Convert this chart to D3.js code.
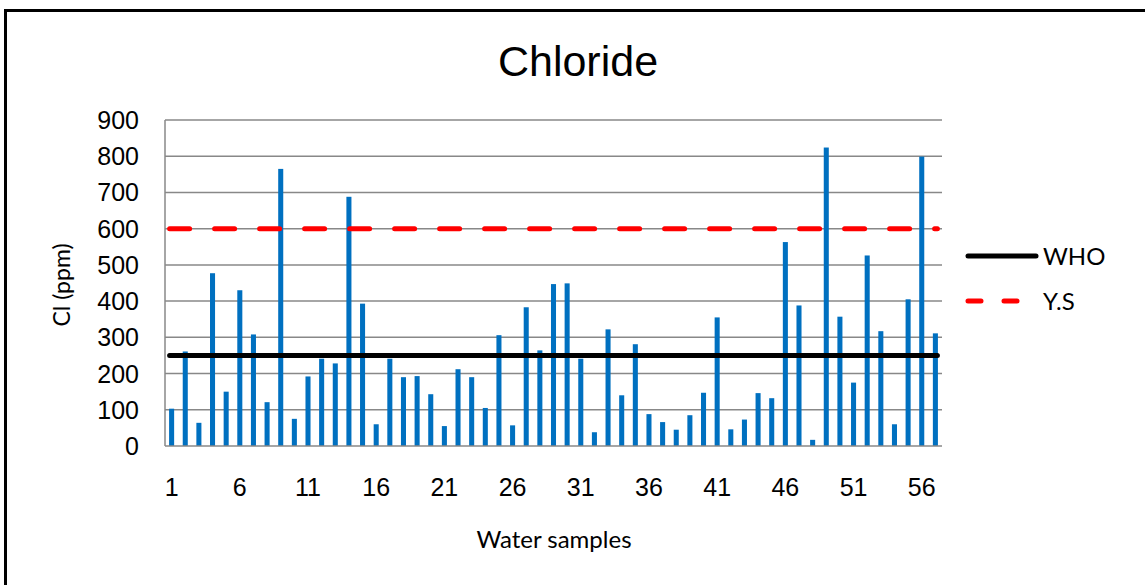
<!DOCTYPE html>
<html>
<head>
<meta charset="utf-8">
<script src="https://cdn.jsdelivr.net/npm/d3@7"></script>
<style>
  body { margin: 0; background: #fff; }
  text { font-family: "Liberation Sans", Arial, sans-serif; fill: #000; }
  text.cal { font-family: Lato, "Open Sans", sans-serif; }
</style>
</head>
<body>
<div id="container"></div>
<script>
// chloride per water sample (ppm)
var samples = d3.range(1, 58);
var chloride = [103, 261, 64, 477, 150, 430, 308, 121, 765, 75,
                192, 241, 228, 688, 393, 60, 241, 190, 193, 143,
                55, 212, 190, 105, 306, 57, 383, 264, 447, 449,
                241, 38, 322, 140, 281, 88, 66, 45, 85, 147,
                355, 46, 73, 146, 132, 563, 388, 17, 824, 357,
                175, 526, 317, 60, 405, 799, 311];
var limits = [
  {name: "WHO", value: 250},
  {name: "Y.S", value: 600}
];
var yTicks = [0, 100, 200, 300, 400, 500, 600, 700, 800, 900];
var xTickLabels = [1, 6, 11, 16, 21, 26, 31, 36, 41, 46, 51, 56];

var width = 1145, height = 585;
var plot = {left: 165, right: 942, top: 120, bottom: 446};

var svg = d3.select("#container").append("svg")
    .attr("width", width)
    .attr("height", height);

// outer frame
svg.append("rect")
    .attr("x", 5.5).attr("y", 10.5)
    .attr("width", width + 20).attr("height", height + 20)
    .attr("fill", "none").attr("stroke", "#000").attr("stroke-width", 3);

var x = d3.scaleBand()
    .domain(samples)
    .range([plot.left, plot.right])
    .paddingInner(0.63)
    .paddingOuter(0.3);

var y = d3.scaleLinear()
    .domain([0, 900])
    .range([plot.bottom, plot.top]);

// gridlines
svg.append("g").selectAll("line")
    .data(yTicks.slice(1))
    .enter().append("line")
    .attr("x1", plot.left).attr("x2", plot.right)
    .attr("y1", function(d) { return y(d) }).attr("y2", function(d) { return y(d) })
    .attr("stroke", "#888").attr("stroke-width", 1.5);

// bars
svg.append("g").selectAll("rect")
    .data(chloride)
    .enter().append("rect")
    .attr("x", function(d, i) { return x(samples[i]) })
    .attr("y", function(d) { return y(d) })
    .attr("width", x.bandwidth())
    .attr("height", function(d) { return y(0) - y(d) })
    .attr("fill", "#0070C0");

// axes lines
svg.append("line")
    .attr("x1", plot.left).attr("x2", plot.left)
    .attr("y1", plot.top).attr("y2", plot.bottom)
    .attr("stroke", "#888").attr("stroke-width", 1.5);
svg.append("line")
    .attr("x1", plot.left).attr("x2", plot.right)
    .attr("y1", y(0)).attr("y2", y(0))
    .attr("stroke", "#888").attr("stroke-width", 1.5);

// limit lines
var first = x(samples[0]) + x.bandwidth() / 2 - 2,
    last = x(samples[samples.length - 1]) + x.bandwidth() / 2 + 2;

svg.append("line")
    .attr("x1", first).attr("x2", last)
    .attr("y1", y(limits[0].value)).attr("y2", y(limits[0].value))
    .attr("stroke", "#000").attr("stroke-width", 5).attr("stroke-linecap", "round");

svg.append("line")
    .attr("x1", first).attr("x2", last)
    .attr("y1", y(limits[1].value)).attr("y2", y(limits[1].value))
    .attr("stroke", "#ff0000").attr("stroke-width", 5)
    .attr("stroke-linecap", "round").attr("stroke-dasharray", "20,25");

// y tick labels
svg.append("g").selectAll("text")
    .data(yTicks)
    .enter().append("text")
    .attr("x", 139)
    .attr("y", function(d) { return y(d) })
    .attr("dy", "0.36em")
    .attr("text-anchor", "end")
    .style("font-size", "25px")
    .text(function(d) { return d });

// x tick labels
svg.append("g").selectAll("text")
    .data(xTickLabels)
    .enter().append("text")
    .attr("x", function(d) { return x(d) + x.bandwidth() / 2 })
    .attr("y", 496)
    .attr("text-anchor", "middle")
    .style("font-size", "25px")
    .text(function(d) { return d });

// titles
svg.append("text")
    .attr("x", 578).attr("y", 76)
    .attr("text-anchor", "middle")
    .style("font-size", "43px")
    .text("Chloride");

svg.append("text")
    .attr("class", "cal")
    .attr("x", 554).attr("y", 548)
    .attr("text-anchor", "middle")
    .style("font-size", "24px")
    .text("Water samples");

svg.append("text")
    .attr("class", "cal")
    .attr("transform", "translate(70," + 285 + ") rotate(-90)")
    .attr("text-anchor", "middle")
    .style("font-size", "23px")
    .text("Cl (ppm)");

// legend
var legend = svg.append("g");
legend.append("line")
    .attr("x1", 968).attr("x2", 1036).attr("y1", 256).attr("y2", 256)
    .attr("stroke", "#000").attr("stroke-width", 5).attr("stroke-linecap", "round");
legend.append("line")
    .attr("x1", 968).attr("x2", 1036).attr("y1", 301).attr("y2", 301)
    .attr("stroke", "#ff0000").attr("stroke-width", 5)
    .attr("stroke-linecap", "round").attr("stroke-dasharray", "13,23");
legend.selectAll("text.leg")
    .data(limits)
    .enter().append("text")
    .attr("class", "leg cal")
    .attr("x", 1043)
    .attr("y", function(d, i) { return 256 + i * 45 })
    .attr("dy", "0.36em")
    .style("font-size", "24px")
    .text(function(d) { return d.name });
</script>
</body>
</html>
